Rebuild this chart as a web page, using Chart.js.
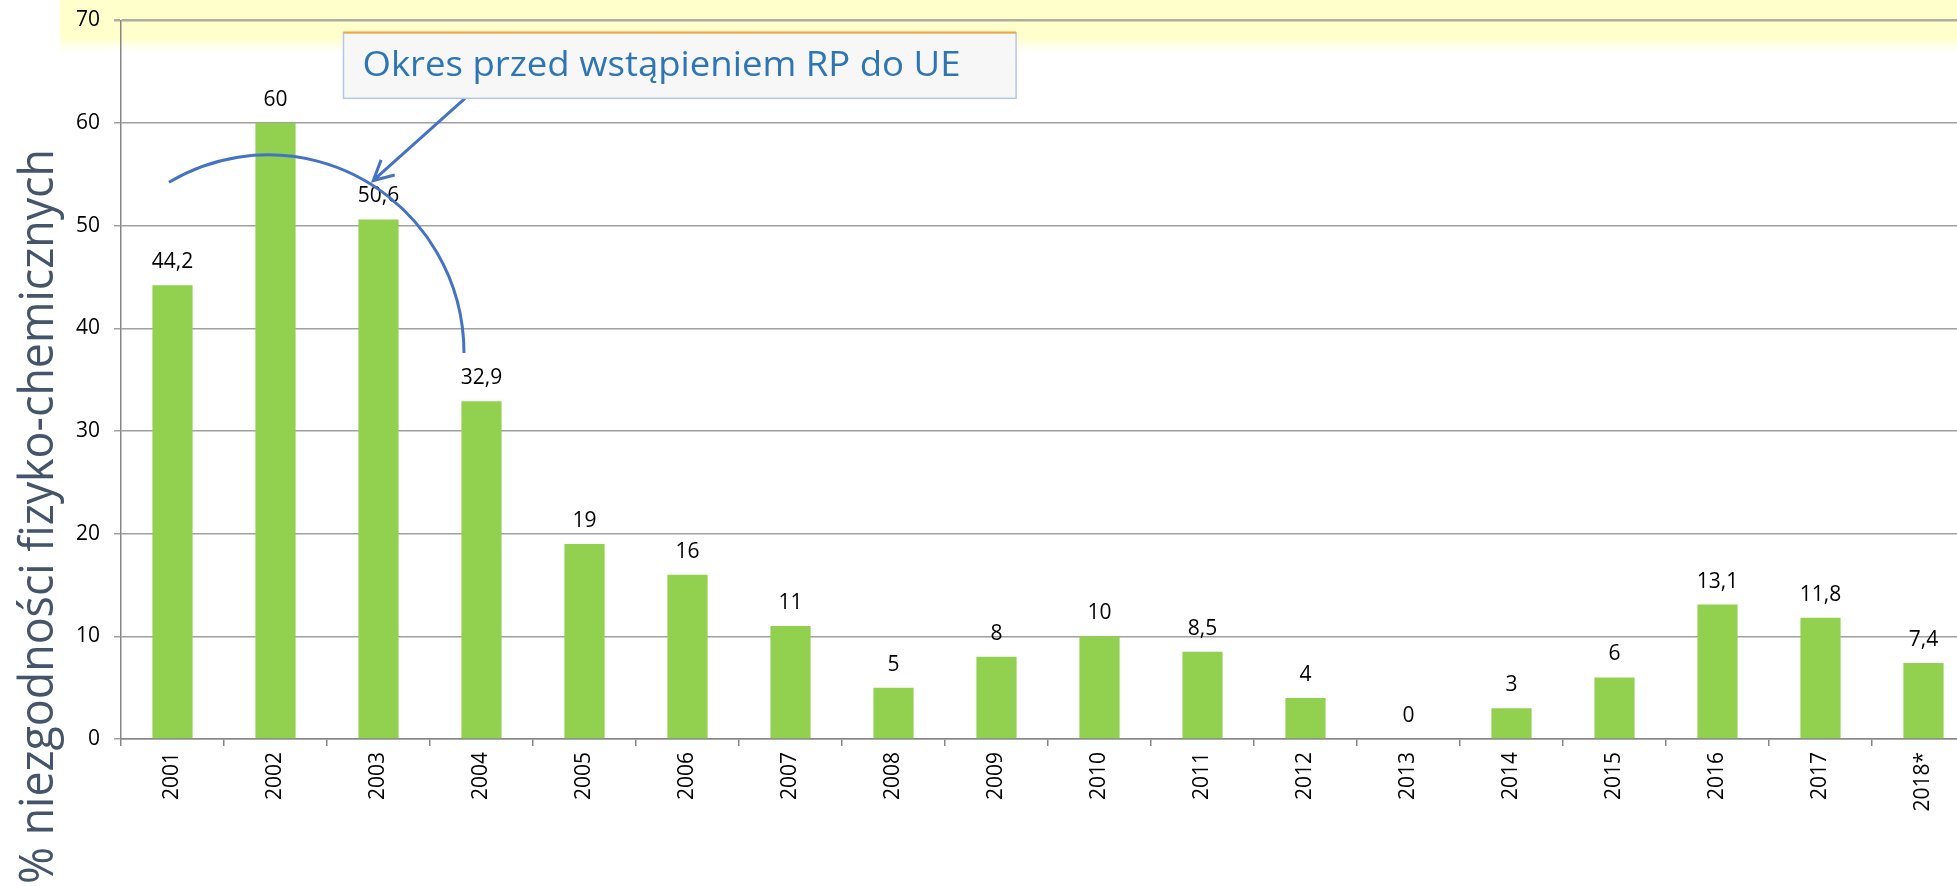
<!DOCTYPE html>
<html>
<head>
<meta charset="utf-8">
<script src="https://cdn.jsdelivr.net/npm/chart.js@4.4.1/dist/chart.umd.min.js"></script>
<style>
  html, body { margin: 0; padding: 0; background: #fff; overflow: hidden; width: 1957px; height: 886px; }
  canvas { display: block; }
</style>
</head>
<body>
<canvas id="barChart" width="1980" height="886"></canvas>
<script>
// data
const years = ['2001', '2002', '2003', '2004', '2005', '2006', '2007', '2008', '2009',
               '2010', '2011', '2012', '2013', '2014', '2015', '2016', '2017', '2018*'];
const values = [44.2, 60, 50.6, 32.9, 19, 16, 11, 5, 8, 10, 8.5, 4, 0, 3, 6, 13.1, 11.8, 7.4];
const yMin = 0;
const yMax = 70;
const yStep = 10;
const axisTitle = '% niezgodności fizyko-chemicznych';
const noteText = 'Okres przed wstąpieniem RP do UE';

const fmt = v => String(v).replace('.', ',');
const labelFamily = '"Open Sans", "Liberation Sans", sans-serif';

// draw text squeezed sideways so it takes a given width (looks like Calibri)
function fillSqueezed(c, text, size, width) {
    c.font = size + 'px "Open Sans", sans-serif';
    const k = width / c.measureText(text).width;
    c.scale(k, 1);
    c.fillText(text, 0, 0);
}

const backdrop = {
    id: 'backdrop',
    beforeDraw(chart) {
        const c = chart.ctx;
        c.save();
        c.fillStyle = '#ffffff';
        c.fillRect(0, 0, chart.width, chart.height);
        let g = c.createLinearGradient(0, 0, 0, 52);
        g.addColorStop(0, '#ffffcc');
        g.addColorStop(0.72, '#ffffcc');
        g.addColorStop(1, 'rgba(255,255,204,0)');
        c.fillStyle = g;
        c.fillRect(60, 0, chart.width - 60, 52);
        c.restore();
    }
};

const valueLabels = {
    id: 'valueLabels',
    afterDatasetsDraw(chart) {
        const c = chart.ctx;
        const meta = chart.getDatasetMeta(0);
        c.save();
        c.font = '21px ' + labelFamily;
        c.fillStyle = '#000';
        c.textAlign = 'center';
        c.textBaseline = 'alphabetic';
        meta.data.forEach((bar, i) => {
            c.fillText(fmt(values[i]), bar.x, bar.y - 17);
        });
        c.restore();
    }
};

const notes = {
    id: 'notes',
    afterDraw(chart) {
        const c = chart.ctx;
        const x = chart.scales.x, y = chart.scales.y;
        const cw = x.getPixelForValue(1) - x.getPixelForValue(0);
        c.save();

        // arc over the first years
        c.strokeStyle = '#4472c4';
        c.lineWidth = 3;
        c.beginPath();
        c.ellipse(x.getPixelForValue(0.93), y.getPixelForValue(37.6),
                  1.9 * cw, y.getPixelForValue(0) - y.getPixelForValue(19.3),
                  0, -120.5 * Math.PI / 180, 0);
        c.stroke();

        // arrow from the note box
        const tx = x.getPixelForValue(2.84), ty = y.getPixelForValue(62.4);
        const hx = x.getPixelForValue(1.95), hy = y.getPixelForValue(54.4);
        const a = Math.atan2(hy - ty, hx - tx);
        c.lineWidth = 3;
        c.beginPath();
        c.moveTo(tx, ty);
        c.lineTo(hx, hy);
        c.moveTo(hx - 22 * Math.cos(a - 0.48), hy - 22 * Math.sin(a - 0.48));
        c.lineTo(hx, hy);
        c.lineTo(hx - 22 * Math.cos(a + 0.48), hy - 22 * Math.sin(a + 0.48));
        c.stroke();

        // note box
        const bl = x.getPixelForValue(1.66), br = x.getPixelForValue(8.19);
        const bt = y.getPixelForValue(68.8), bb = y.getPixelForValue(62.4);
        c.fillStyle = '#f7f7f7';
        c.fillRect(bl, bt, br - bl, bb - bt);
        c.lineWidth = 1.5;
        c.strokeStyle = '#b4c7e7';
        c.strokeRect(bl, bt, br - bl, bb - bt);
        c.strokeStyle = '#f4a53a';
        c.lineWidth = 2;
        c.beginPath();
        c.moveTo(bl, bt);
        c.lineTo(br, bt);
        c.stroke();
        c.save();
        c.fillStyle = '#2e75b6';
        c.textAlign = 'left';
        c.textBaseline = 'alphabetic';
        c.translate(bl + 19, bb - 22);
        fillSqueezed(c, noteText, 35, 598);
        c.restore();

        // y axis title
        c.fillStyle = '#44546a';
        c.translate(53, 884);
        c.rotate(-Math.PI / 2);
        c.textAlign = 'left';
        c.textBaseline = 'alphabetic';
        fillSqueezed(c, axisTitle, 47, 735);
        c.restore();
    }
};

const ctx = document.getElementById('barChart').getContext('2d');
const barChart = new Chart(ctx, {
    type: 'bar',
    data: {
        labels: years,
        datasets: [{
            data: values,
            backgroundColor: '#92d050',
            borderWidth: 0,
            barPercentage: 0.39,
            categoryPercentage: 1
        }]
    },
    options: {
        responsive: false,
        animation: false,
        devicePixelRatio: 1,
        layout: { padding: { top: 16, right: 5, left: 0, bottom: 0 } },
        plugins: {
            legend: { display: false },
            tooltip: { enabled: false }
        },
        scales: {
            x: {
                grid: {
                    offset: true,
                    drawOnChartArea: false,
                    tickLength: 7,
                    color: '#868686',
                    lineWidth: 1.5
                },
                border: { color: '#868686', width: 1.5 },
                ticks: {
                    minRotation: 90,
                    maxRotation: 90,
                    padding: 6,
                    color: '#000',
                    font: { family: labelFamily, size: 21 }
                },
                afterFit(scale) { scale.height = 147; }
            },
            y: {
                min: yMin,
                max: yMax,
                ticks: {
                    stepSize: yStep,
                    padding: 14,
                    color: '#000',
                    font: { family: labelFamily, size: 21, lineHeight: 0.6 }
                },
                grid: {
                    color: c => c.tick && c.tick.value === yMax ? '#aeae9e' : '#a0a0a0',
                    lineWidth: c => c.tick && c.tick.value === yMax ? 2.5 : 1.5,
                    tickLength: 7
                },
                border: { color: '#868686', width: 1.5 },
                afterFit(scale) { scale.width = 121; }
            }
        }
    },
    plugins: [backdrop, valueLabels, notes]
});
</script>
</body>
</html>
